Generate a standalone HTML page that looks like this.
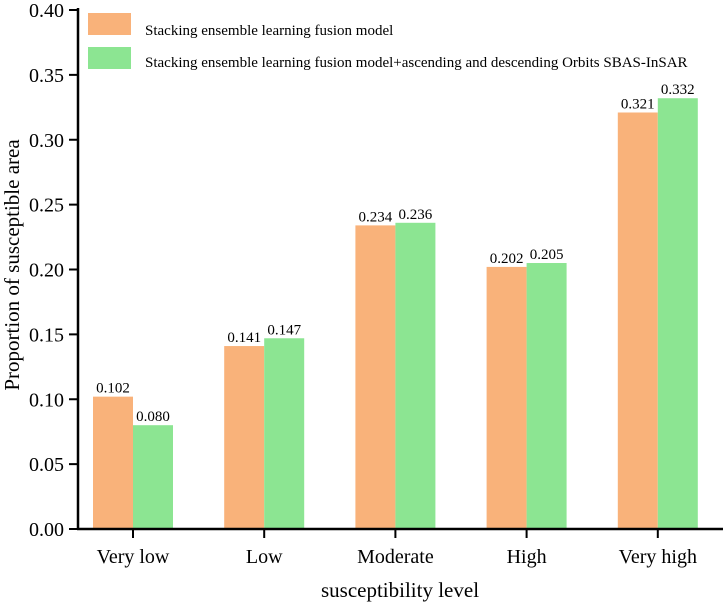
<!DOCTYPE html>
<html><head><meta charset="utf-8"><style>
body{margin:0;background:#fff}
svg text{font-family:"Liberation Serif","Times New Roman",serif;fill:#000}
</style></head><body>
<svg id="chart" width="726" height="604" font-family="Liberation Serif, serif"></svg>
<script>
const categories=["Very low","Low","Moderate","High","Very high"];
const seriesA=[0.102,0.141,0.234,0.202,0.321];
const seriesB=[0.080,0.147,0.236,0.205,0.332];
const yTicks=[0,0.05,0.10,0.15,0.20,0.25,0.30,0.35,0.40];
const ns="http://www.w3.org/2000/svg";
const svg=document.getElementById('chart');
function el(t,a,p){const e=document.createElementNS(ns,t);for(const k in a)e.setAttribute(k,a[k]);if(t==='text')e.setAttribute('font-family','Liberation Serif, serif');(p||svg).appendChild(e);return e;}
const y=v=>529-v/0.40*519;
const x=i=>133+i*131.2;
const bw=40;
categories.forEach((c,i)=>{
 const a=el('rect',{x:x(i)-bw,y:y(seriesA[i]),width:bw,height:y(0)-y(seriesA[i]),fill:'#F9B27A'});
 
 
 const b=el('rect',{x:x(i),y:y(seriesB[i]),width:bw,height:y(0)-y(seriesB[i]),fill:'#8CE592'});
 
 
 const ta=el('text',{x:x(i)-bw/2,y:y(seriesA[i])-4,'font-size':15,'text-anchor':'middle'});ta.textContent=seriesA[i].toFixed(3);
 
 
 const tb=el('text',{x:x(i)+bw/2,y:y(seriesB[i])-4,'font-size':15,'text-anchor':'middle'});tb.textContent=seriesB[i].toFixed(3);
 
 
 const tk=el('line',{x1:x(i),x2:x(i),y1:529,y2:538,stroke:'#000','stroke-width':2});
 
 
 const tl=el('text',{x:x(i),y:563,'font-size':20,'text-anchor':'middle'});tl.textContent=c;
 
 
});
const ya=el('line',{x1:78,x2:78,y1:8,y2:530,stroke:'#000','stroke-width':2.5});


const xa=el('line',{x1:77,x2:723,y1:529,y2:529,stroke:'#000','stroke-width':2.5});


yTicks.forEach(v=>{
 const t=el('line',{x1:69,x2:78,y1:y(v),y2:y(v),stroke:'#000','stroke-width':2});
 
 
 const l=el('text',{x:64,y:y(v)+7,'font-size':20,'text-anchor':'end'});l.textContent=v.toFixed(2);
 
 
});
const xt=el('text',{x:400,y:597,'font-size':21,'text-anchor':'middle'});xt.textContent='susceptibility level';


const yt=el('text',{x:0,y:0,'font-size':21,'text-anchor':'middle',transform:'translate(19,265) rotate(-90)'});yt.textContent='Proportion of susceptible area';


const l1=el('rect',{x:88,y:13,width:43,height:22,fill:'#F9B27A'});


const l2=el('rect',{x:88,y:47,width:43,height:22,fill:'#8CE592'});


const lt1=el('text',{x:145,y:35,'font-size':15});lt1.textContent='Stacking ensemble learning fusion model';


const lt2=el('text',{x:145,y:67,'font-size':15});lt2.textContent='Stacking ensemble learning fusion model+ascending and descending Orbits SBAS-InSAR';


</script>
</body></html>
